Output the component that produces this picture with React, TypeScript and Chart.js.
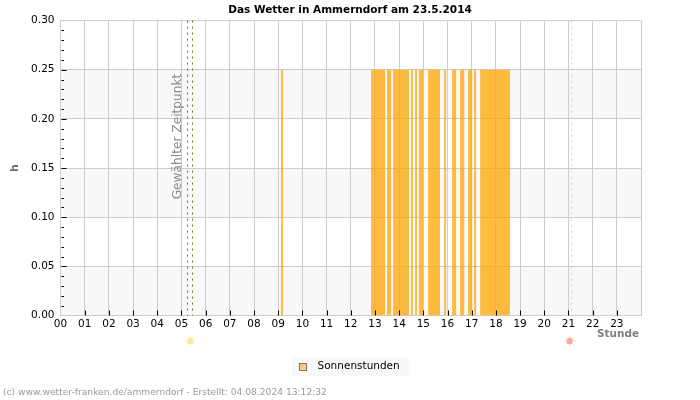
import React, { useEffect, useRef } from "react";
import { Chart, registerables } from "chart.js";

Chart.register(...registerables);

const FONT = "'DejaVu Sans'";
const hourLabels = ["00","01","02","03","04","05","06","07","08","09","10","11","12","13","14","15","16","17","18","19","20","21","22","23",""];
const sunStarts = [9.11,12.84,13.5,13.75,14.49,14.66,14.82,15.2,15.86,16.19,16.52,16.85,17.1,17.35];
const sunEnds = [9.2,13.42,13.67,14.41,14.57,14.74,14.99,15.69,15.94,16.36,16.69,17.02,17.18,18.59];
const sunValue = 0.25;
const selectedTime = 5.21;
const sunriseLine = 5.445;
const sunsetLine = 21.11;
const sunriseIcon = 5.37;
const sunsetIcon = 21.05;
const bandStarts = [0, 0.1, 0.2];
const bandSize = 0.05;
const footer = "(c) www.wetter-franken.de/ammerndorf - Erstellt: 04.08.2024 13:12:32";

const sunPoints: { x: number; y: number }[] = [];
sunStarts.forEach((s, i) => {
  sunPoints.push({ x: s, y: 0 }, { x: s, y: sunValue }, { x: sunEnds[i], y: sunValue }, { x: sunEnds[i], y: 0 });
});

function drawSun(ctx: CanvasRenderingContext2D, x: number, y: number, color: string, ray: string) {
  ctx.save();
  ctx.strokeStyle = ray;
  ctx.lineWidth = 1;
  for (let i = 0; i < 8; i++) {
    const a = (i * Math.PI) / 4;
    ctx.beginPath();
    ctx.moveTo(x + Math.cos(a) * 3, y + Math.sin(a) * 3);
    ctx.lineTo(x + Math.cos(a) * 5.5, y + Math.sin(a) * 5.5);
    ctx.stroke();
  }
  ctx.fillStyle = color;
  ctx.beginPath();
  ctx.arc(x, y, 3.2, 0, Math.PI * 2);
  ctx.fill();
  ctx.restore();
}

const decor = {
  id: "decor",
  beforeDraw(chart: any) {
    const { ctx, chartArea: a, scales } = chart;
    const y = scales.y;
    ctx.save();
    ctx.fillStyle = "#f8f8f8";
    bandStarts.forEach((b) => {
      const top = y.getPixelForValue(b + bandSize);
      ctx.fillRect(a.left, top, a.right - a.left, y.getPixelForValue(b) - top);
    });
    ctx.fillRect(292, 358, 117, 18);
    ctx.restore();
  },
  afterDraw(chart: any) {
    const hit = chart.legend.legendHitBoxes[0];
    const { ctx } = chart;
    ctx.save();
    ctx.fillStyle = "#ffcc77";
    ctx.strokeStyle = "#777777";
    ctx.lineWidth = 1;
    const sx = Math.round(hit.left) - 0.5;
    ctx.fillRect(sx, 363.5, 7, 7);
    ctx.strokeRect(sx, 363.5, 7, 7);
    ctx.restore();
  },
  afterDatasetsDraw(chart: any) {
    const { ctx, chartArea: a, scales } = chart;
    const x = scales.x;
    const y = scales.y;
    ctx.save();
    const vline = (v: number, color: string) => {
      const px = Math.round(x.getPixelForValue(v)) + 0.5;
      ctx.strokeStyle = color;
      ctx.lineWidth = 1;
      ctx.setLineDash([2, 4]);
      ctx.beginPath();
      ctx.moveTo(px, a.top);
      ctx.lineTo(px, a.bottom);
      ctx.stroke();
    };
    vline(selectedTime, "#666666");
    vline(sunriseLine, "#6b7a10");
    vline(sunsetLine, "#f0c890");
    ctx.setLineDash([]);
    ctx.strokeStyle = "#000";
    ctx.lineWidth = 1;
    for (let h = 1; h < 24; h++) {
      const px = Math.round(x.getPixelForValue(h)) + 0.5;
      ctx.beginPath();
      ctx.moveTo(px, a.bottom - 5);
      ctx.lineTo(px, a.bottom);
      ctx.stroke();
    }
    for (let i = 1; i < 30; i++) {
      const py = Math.round(y.getPixelForValue(i / 100)) + 0.5;
      ctx.beginPath();
      ctx.moveTo(a.left + 1, py);
      ctx.lineTo(a.left + (i % 5 === 0 ? 6 : 3.5), py);
      ctx.stroke();
    }
    ctx.translate(x.getPixelForValue(selectedTime) - 8.5, 136.5);
    ctx.rotate(-Math.PI / 2);
    ctx.fillStyle = "#8a8a8a";
    ctx.font = `12.2px ${FONT}`;
    ctx.textAlign = "center";
    ctx.textBaseline = "middle";
    ctx.fillText("Gewählter Zeitpunkt", 0, 0);
    ctx.restore();

    drawSun(ctx, x.getPixelForValue(sunriseIcon), 341, "#fde79a", "#fdf0c0");
    drawSun(ctx, x.getPixelForValue(sunsetIcon), 341, "#fcaa9a", "#fdd0c4");

    ctx.save();
    ctx.fillStyle = "#9a9a9a";
    ctx.font = `9.15px ${FONT}`;
    ctx.textBaseline = "middle";
    ctx.fillText(footer, 3, 393);
    ctx.fillStyle = "#808080";
    ctx.font = `bold 10.5px ${FONT}`;
    ctx.fillText("Stunde", 597, 334);
    ctx.restore();
  },
};

export default function App() {
  const ref = useRef<HTMLCanvasElement>(null);
  useEffect(() => {
    const chart = new Chart(ref.current!, {
      type: "line",
      data: {
        datasets: [
          {
            label: "Sonnenstunden",
            data: sunPoints,
            backgroundColor: "rgba(255,165,0,0.75)",
            borderWidth: 0,
            pointRadius: 0,
            fill: "origin",
            tension: 0,
          },
        ],
      },
      plugins: [decor],
      options: {
        responsive: false,
        animation: false,
        layout: { padding: { top: 2, left: 0, right: 0, bottom: 18 } },
        scales: {
          x: {
            type: "linear",
            min: 0,
            max: 24,
            afterFit: (s: any) => { s.height = 41; },
            afterBuildTicks: (s: any) => { s.ticks = hourLabels.map((_, i) => ({ value: i })); },
            grid: { color: "#cccccc", lineWidth: 1, drawTicks: false },
            border: { color: "#cccccc" },
            ticks: {
              autoSkip: false, maxRotation: 0, padding: 2, color: "#000",
              font: { family: FONT, size: 10.5 },
              callback: (v: any) => hourLabels[v],
            },
          },
          y: {
            min: 0,
            max: 0.3,
            afterFit: (s: any) => { s.width = 60.5; },
            grid: { color: "#cccccc", lineWidth: 1, drawTicks: false },
            border: { color: "#cccccc" },
            ticks: {
              stepSize: 0.05, padding: 6, color: "#000",
              font: { family: FONT, size: 10.5 },
              callback: (v: any) => Number(v).toFixed(2),
            },
            title: {
              display: true, text: "h", color: "#707070",
              font: { family: FONT, size: 11, weight: "bold" },
              padding: { top: 9, bottom: 0 },
            },
          },
          rightGutter: {
            type: "linear",
            position: "right",
            display: true,
            afterFit: (s: any) => { s.width = 59; },
            grid: { display: false },
            border: { display: false },
            ticks: { display: false },
          },
        },
        plugins: {
          tooltip: { enabled: false },
          title: {
            display: true, text: "Das Wetter in Ammerndorf am 23.5.2014", color: "#000",
            font: { family: FONT, size: 10.5, weight: "bold" },
            padding: { top: 2, bottom: 4 },
          },
          legend: {
            position: "bottom",
            labels: {
              boxWidth: 12, boxHeight: 7, padding: 5, color: "#000",
              font: { family: FONT, size: 10.5 },
              generateLabels: () => [{ text: "Sonnenstunden", fillStyle: "rgba(0,0,0,0)", strokeStyle: "rgba(0,0,0,0)", lineWidth: 0, datasetIndex: 0 }],
            },
          },
        },
      },
    } as any);
    return () => chart.destroy();
  }, []);
  return <canvas ref={ref} width={700} height={400} style={{ position: "fixed", left: 0, top: 0, display: "block" }} />;
}
